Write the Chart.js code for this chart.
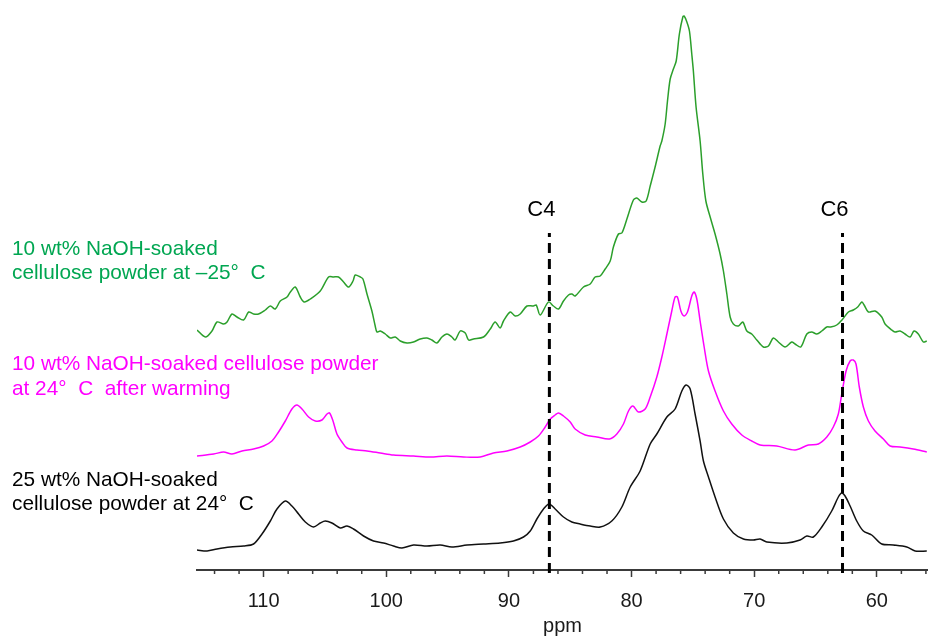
<!DOCTYPE html>
<html>
<head>
<meta charset="utf-8">
<title>13C CP/MAS NMR - NaOH-soaked cellulose</title>
<script src="https://cdn.jsdelivr.net/npm/chart.js@4.4.1/dist/chart.umd.min.js"></script>
<style>
  html, body { margin: 0; padding: 0; background: #fff; }
  canvas { display: block; }
</style>
</head>
<body>
<canvas id="nmr" width="928" height="638"></canvas>
<script>
// chemical shift window (ppm), axis runs high -> low
var ppmLeft = 115.43;
var ppmRight = 55.83;

// 10 wt% NaOH-soaked cellulose at -25 C (green, top trace)
var coldPpm = [115.43,114.75,114.21,113.8,113.26,112.98,112.58,112.17,111.63,111.22,
  110.82,110.41,109.86,109.45,109.05,108.64,108.09,107.82,107.42,107.01,
  106.68,106.19,105.38,104.7,104.3,103.89,103.48,103.07,102.71,102.53,
  102.12,101.9,101.57,101.17,100.9,100.76,100.49,100.08,99.67,99.27,
  98.86,98.31,97.78,97.23,96.68,96.28,95.87,95.46,95.05,94.65,
  94.38,93.97,93.56,93.29,92.89,92.07,91.52,91.12,90.71,90.44,
  89.89,89.49,89.08,88.53,88.0,87.77,87.45,86.77,86.37,85.96,
  85.55,85.14,84.87,84.6,83.92,83.37,82.97,82.56,82.15,81.74,
  81.48,81.07,80.79,80.38,79.85,79.57,79.16,78.81,78.48,78.08,
  77.67,77.53,77.26,77.07,76.85,76.59,76.36,76.1,75.82,75.71,
  75.49,75.28,75.09,74.96,74.74,74.41,74.19,73.94,73.59,73.19,
  72.78,72.51,72.23,71.96,71.7,71.29,70.93,70.6,70.2,69.79,
  69.25,68.84,68.44,68.03,67.48,66.94,66.67,66.2,65.71,65.31,
  64.9,64.49,64.08,63.76,63.27,62.78,62.32,61.92,61.56,61.23,
  61.04,60.69,60.15,59.6,59.33,58.79,58.52,58.11,57.7,57.29,
  56.97,56.62,56.21,55.93];
var coldInt = [240,233,239,248,246,248,256,253,250,258,
  256,256,260,264,261,269,273,278,283,273,
  268,271,279,293,293,293,288,283,289,295,
  293,291,276,259,244,238,239,236,232,233,
  229,227,228,231,232,230,227,233,236,233,
  230,239,237,230,231,233,241,248,242,249,
  258,254,256,264,264,265,255,268,264,261,
  269,275,276,274,283,286,293,294,301,309,
  323,336,337,351,370,372,368,369,384,403,
  424,429,446,469,491,501,509,536,553,554,
  548,539,516,499,463,429,396,369,353,336,
  316,299,276,253,246,244,248,239,236,230,
  223,224,232,228,223,228,226,223,236,238,
  236,239,243,243,245,251,258,260,263,268,
  265,258,259,253,246,240,238,239,236,233,
  239,236,228,229];

// 10 wt% NaOH-soaked cellulose at 24 C after warming (magenta, middle trace)
var warmPpm = [115.43,114.07,113.26,112.58,111.76,110.82,110.0,109.32,108.78,108.23,
  107.69,107.28,106.87,106.33,105.79,105.24,104.83,104.62,104.34,104.02,
  103.61,103.2,102.39,101.57,100.49,99.41,97.78,96.41,95.05,93.7,
  92.34,91.26,90.16,89.08,88.26,87.59,87.04,86.63,86.23,85.96,
  85.55,85.0,84.6,83.78,82.83,81.8,81.2,80.66,80.25,79.89,
  79.44,78.89,78.48,77.94,77.53,77.12,76.72,76.45,76.26,75.98,
  75.71,75.44,75.09,74.9,74.68,74.41,74.08,73.73,73.19,72.51,
  71.83,71.01,70.2,69.52,68.16,66.67,65.58,64.77,64.08,63.55,
  63.14,62.86,62.51,62.18,61.92,61.7,61.43,61.1,60.69,60.15,
  59.47,58.92,58.11,57.03,55.93];
var warmInt = [114,116,118,116,119,121,124,129,138,149,
  161,165,161,153,149,150,156,157,149,136,
  128,122,120,119,117,115,114,113,114,113,
  113,117,119,123,128,134,143,151,155,157,
  154,148,141,135,133,131,136,146,159,164,
  158,161,173,193,213,236,259,273,273,259,
  254,258,274,278,271,249,223,199,179,159,
  146,135,129,125,124,120,125,126,133,143,
  156,176,199,209,210,206,183,163,149,139,
  131,124,123,121,118];

// 25 wt% NaOH-soaked cellulose at 24 C (black, bottom trace)
var ref25Ppm = [115.43,114.61,113.8,112.71,111.63,110.82,110.13,109.45,108.91,108.23,
  107.69,107.15,106.6,105.93,105.38,104.97,104.43,103.75,103.2,102.67,
  101.85,101.04,100.22,99.41,98.72,97.78,96.68,95.6,94.65,93.42,
  92.07,90.71,89.63,88.81,88.26,87.72,87.18,86.72,86.23,85.55,
  84.87,84.19,83.37,82.56,81.61,80.79,80.11,79.3,78.48,77.94,
  77.12,76.45,75.9,75.55,75.22,74.82,74.41,74.14,73.73,73.19,
  72.51,71.7,70.88,70.07,69.52,68.97,67.34,66.26,65.71,65.18,
  64.49,63.68,63.14,62.86,62.59,62.18,61.64,61.1,60.42,59.6,
  58.66,57.56,56.88,55.93];
var ref25Int = [20,19,21,23,24,26,36,49,61,69,
  64,56,48,43,47,49,47,42,44,41,
  34,29,27,24,22,25,24,25,23,25,
  26,27,29,33,39,51,61,66,61,53,
  48,46,44,43,49,63,83,99,126,136,
  153,161,179,185,181,156,129,109,93,73,
  51,37,31,30,31,28,27,30,34,33,
  43,59,73,77,74,64,49,39,35,26,
  25,23,19,19];

// carbon assignments
var markerPpm = [86.7, 62.8];
var markerText = ['C4', 'C6'];
var markerTop = 337;
var markerTextLevel = 354;

// legend text next to each trace
var seriesLines = [
  ['10 wt% NaOH-soaked', 'cellulose powder at \u201325\u00b0  C'],
  ['10 wt% NaOH-soaked cellulose powder', 'at 24\u00b0  C  after warming'],
  ['25 wt% NaOH-soaked', 'cellulose powder at 24\u00b0  C']
];
var seriesTextColor = ['#00a651', '#ff00ff', '#000000'];
var seriesLineColor = ['#2b9f2b', '#ff00ff', '#111111'];
var seriesBaseline = [[255, 279], [370, 395], [486, 510]];

var FONT = '"Liberation Sans", Arial, sans-serif';
var AXIS = '#3a3a3a';

function toPoints(xs, ys) {
  var out = [];
  for (var i = 0; i < xs.length; i++) out.push({x: xs[i], y: ys[i]});
  return out;
}

function traceSet(xs, ys, color) {
  return {
    data: toPoints(xs, ys),
    borderColor: color,
    borderWidth: 1.5,
    pointRadius: 0,
    tension: 0.3,
    fill: false
  };
}

var datasets = [];
markerPpm.forEach(function(p) {
  datasets.push({
    data: [{x: p, y: -3}, {x: p, y: markerTop}],
    borderColor: '#000',
    borderWidth: 3,
    borderDash: [10, 6],
    pointRadius: 0,
    clip: false
  });
});
datasets.push(traceSet(coldPpm, coldInt, seriesLineColor[0]));
datasets.push(traceSet(warmPpm, warmInt, seriesLineColor[1]));
datasets.push(traceSet(ref25Ppm, ref25Int, seriesLineColor[2]));

var decorPlugin = {
  id: 'decor',
  beforeDraw: function(chart) {
    var ctx = chart.ctx;
    ctx.save();
    ctx.fillStyle = '#fff';
    ctx.fillRect(0, 0, chart.width, chart.height);
    ctx.restore();
  },
  afterDraw: function(chart) {
    var ctx = chart.ctx;
    var xs = chart.scales.x, ys = chart.scales.y;
    var bottom = chart.chartArea.bottom;
    ctx.save();

    // minor ticks every 2 ppm
    ctx.strokeStyle = AXIS;
    ctx.lineWidth = 1.5;
    xs.ticks.forEach(function(t) {
      if (t.value % 10 === 0) return;
      var px = xs.getPixelForValue(t.value);
      ctx.beginPath();
      ctx.moveTo(px, bottom);
      ctx.lineTo(px, bottom + 4);
      ctx.stroke();
    });

    // C4 / C6 labels above the dashed markers
    ctx.fillStyle = '#000';
    ctx.font = '22px ' + FONT;
    ctx.textAlign = 'center';
    ctx.textBaseline = 'alphabetic';
    markerPpm.forEach(function(p, i) {
      ctx.fillText(markerText[i], xs.getPixelForValue(p) - 8, ys.getPixelForValue(markerTextLevel));
    });

    // trace captions on the left
    ctx.font = '20.8px ' + FONT;
    ctx.textAlign = 'left';
    seriesLines.forEach(function(lines, i) {
      ctx.fillStyle = seriesTextColor[i];
      lines.forEach(function(s, j) {
        ctx.fillText(s, 12, seriesBaseline[i][j]);
      });
    });
    ctx.restore();
  }
};

new Chart(document.getElementById('nmr'), {
  type: 'line',
  data: {datasets: datasets},
  plugins: [decorPlugin],
  options: {
    responsive: false,
    animation: false,
    events: [],
    layout: {padding: {left: 197, right: 0, top: 0, bottom: 0}},
    plugins: {legend: {display: false}, tooltip: {enabled: false}},
    scales: {
      x: {
        type: 'linear',
        reverse: true,
        min: ppmRight,
        max: ppmLeft,
        border: {display: true, color: AXIS, width: 2},
        grid: {
          drawOnChartArea: false,
          drawTicks: true,
          tickLength: 7,
          tickWidth: 1.5,
          tickColor: function(c) {
            return c.tick && c.tick.value % 10 === 0 ? AXIS : 'rgba(0,0,0,0)';
          }
        },
        ticks: {
          stepSize: 2,
          includeBounds: false,
          autoSkip: false,
          maxRotation: 0,
          minRotation: 0,
          padding: 12,
          color: '#1a1a1a',
          font: {family: FONT, size: 20},
          callback: function(v) { return v % 10 === 0 ? String(v) : ''; }
        },
        title: {
          display: true,
          text: 'ppm',
          color: '#1a1a1a',
          font: {family: FONT, size: 20},
          padding: {top: 0, bottom: 0}
        },
        afterFit: function(s) {
          s.height = 68;
          s.paddingLeft = 0;
          s.paddingRight = 0;
        }
      },
      y: {
        type: 'linear',
        display: false,
        min: 0,
        max: 570
      }
    }
  }
});
</script>
</body>
</html>
